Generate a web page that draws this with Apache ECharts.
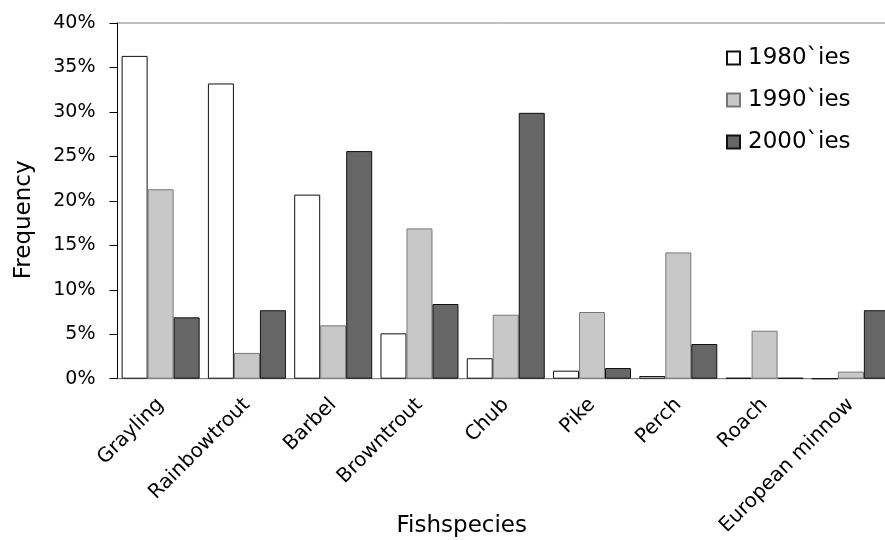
<!DOCTYPE html>
<html>
<head>
<meta charset="utf-8">
<script src="https://cdn.jsdelivr.net/npm/echarts@6/dist/echarts.min.js"></script>
<style>
  html, body { margin: 0; padding: 0; background: #fff; }
  #chart { width: 885px; height: 540px; }
</style>
</head>
<body>
<div id="chart"></div>
<script>
// 鱼种类别
const species = ['Grayling', 'Rainbowtrout', 'Barbel', 'Browntrout', 'Chub', 'Pike', 'Perch', 'Roach', 'European minnow']
// 各年代出现频率（%）
const freq1980 = [36.3, 33.2, 20.7, 5.1, 2.3, 0.9, 0.3, 0.1, 0]
const freq1990 = [21.3, 2.9, 6.0, 16.9, 7.2, 7.5, 14.2, 5.4, 0.8]
const freq2000 = [6.9, 7.7, 25.6, 8.4, 29.9, 1.2, 3.9, 0.1, 7.7]
const seriesNames = ['1980`ies', '1990`ies', '2000`ies']

const font = 'DejaVu Sans'
const chart = echarts.init(document.getElementById('chart'), null, { renderer: 'canvas' })

// 三个系列共用的柱子样式
function barSeries(name, data, fill, border) {
  return {
    name: name,
    type: 'bar',
    data: data,
    barWidth: 26,
    barGap: '0%',
    itemStyle: { color: fill, borderColor: border, borderWidth: 1 }
  }
}

const option = {
  backgroundColor: '#fff',
  animation: false,
  textStyle: { fontFamily: font },
  grid: {
    left: 117.5,
    right: -9,
    top: 23,
    bottom: 161.3,
    outerBoundsMode: 'none', // 不要自动收缩，右侧本来就被裁掉
    show: true,
    borderColor: '#808080',
    borderWidth: 1
  },
  legend: {
    orient: 'vertical',
    left: 726,
    top: 45,
    padding: 0,
    itemWidth: 13,
    itemHeight: 13,
    itemGap: 16,
    icon: 'rect',
    textStyle: { fontSize: 23, color: '#000', fontFamily: font, lineHeight: 26, padding: [0, 0, 0, 3] },
    data: seriesNames
  },
  xAxis: {
    type: 'category',
    data: species,
    name: 'Fishspecies',
    nameLocation: 'middle',
    nameGap: 136,
    nameMoveOverlap: false,
    nameTextStyle: { fontSize: 23, color: '#000', fontFamily: font, padding: [0, 88, 0, 0] },
    axisLine: { lineStyle: { color: '#808080', width: 1 } },
    axisTick: { length: 7, lineStyle: { color: '#808080' } },
    axisLabel: { rotate: 45, fontSize: 20, color: '#000', margin: 23, fontFamily: font }
  },
  yAxis: {
    type: 'value',
    min: 0,
    max: 40,
    interval: 5,
    name: 'Frequency',
    nameLocation: 'middle',
    nameRotate: 90,
    nameGap: 82,
    nameMoveOverlap: false,
    nameTextStyle: { fontSize: 23, color: '#000', fontFamily: font, padding: [0, 38, 0, 0] },
    axisLine: { show: true, lineStyle: { color: '#000', width: 1 } },
    axisTick: { show: true, length: 8, lineStyle: { color: '#000' } },
    splitLine: { show: false },
    axisLabel: { formatter: '{value}%', fontSize: 19, color: '#000', margin: 22, fontFamily: font }
  },
  series: [
    barSeries(seriesNames[0], freq1980, '#ffffff', '#111111'),
    barSeries(seriesNames[1], freq1990, '#c8c8c8', '#777777'),
    barSeries(seriesNames[2], freq2000, '#666666', '#111111')
  ]
}

chart.setOption(option)
</script>
</body>
</html>
